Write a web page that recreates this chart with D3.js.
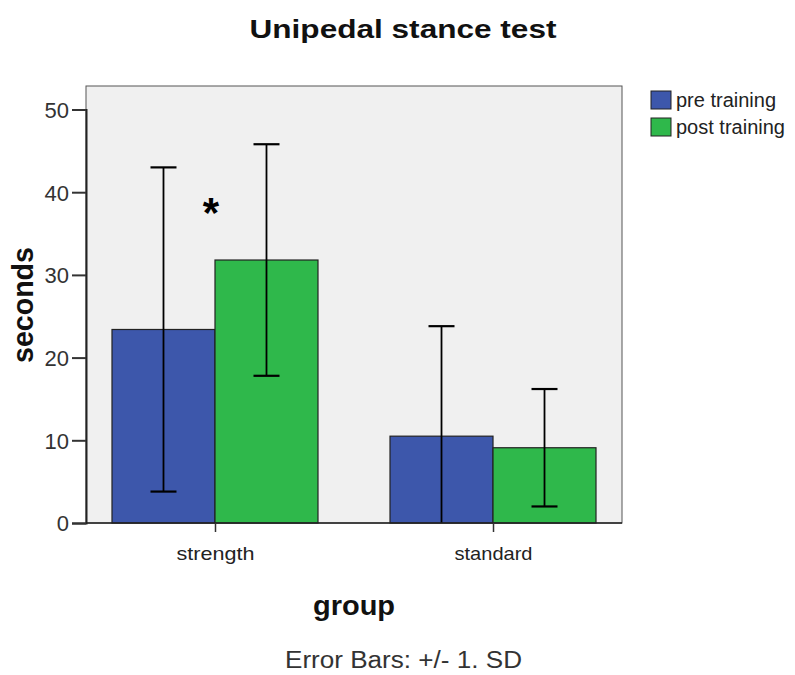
<!DOCTYPE html>
<html><head><meta charset="utf-8">
<script src="https://cdn.jsdelivr.net/npm/d3@7"></script>
<style>body{margin:0;background:#fff}svg{display:block}text{font-family:Arial,"Liberation Sans",sans-serif}</style>
</head><body>
<svg id="c" width="795" height="675"></svg>
<script>
const categories = ["strength", "standard"];
const seriesNames = ["pre training", "post training"];
const seriesColors = ["#3d57ab", "#2fb84b"];
const preMeans = [23.4, 10.5];
const preSD = [19.6, 13.3];
const postMeans = [31.8, 9.1];
const postSD = [14.0, 7.1];
const yTicks = [0, 10, 20, 30, 40, 50];

const svg = d3.select("#c");
const L = 86, R = 622, T = 86, B = 523;
const y = d3.scaleLinear().domain([0, 50]).range([B, 109.5]);
const x = d3.scalePoint().domain(categories).range([L, R]).padding(0.464);
const sub = d3.scaleBand().domain(seriesNames).range([-103, 103]);

svg.append("rect").attr("x", L).attr("y", T).attr("width", R - L).attr("height", B - T)
  .attr("fill", "#f0f0f0").attr("stroke", "#555").attr("stroke-width", 1);

const data = [];
categories.forEach((c, i) => {
  data.push({c, s: seriesNames[0], m: preMeans[i], sd: preSD[i], col: seriesColors[0]});
  data.push({c, s: seriesNames[1], m: postMeans[i], sd: postSD[i], col: seriesColors[1]});
});

svg.selectAll("rect.bar").data(data).enter().append("rect").attr("class", "bar")
  .attr("x", d => x(d.c) + sub(d.s)).attr("width", sub.bandwidth())
  .attr("y", d => y(d.m)).attr("height", d => B - y(d.m))
  .attr("fill", d => d.col).attr("stroke", "#222").attr("stroke-width", 1.2);

const eb = svg.selectAll("g.eb").data(data).enter().append("g");
const cx = d => x(d.c) + sub(d.s) + sub.bandwidth() / 2;
const lo = d => Math.max(0, d.m - d.sd);
eb.append("line").attr("x1", cx).attr("x2", cx).attr("y1", d => y(d.m + d.sd)).attr("y2", d => y(lo(d)))
  .attr("stroke", "#000").attr("stroke-width", 1.8);
eb.append("line").attr("x1", d => cx(d) - 13).attr("x2", d => cx(d) + 13)
  .attr("y1", d => y(d.m + d.sd)).attr("y2", d => y(d.m + d.sd)).attr("stroke", "#000").attr("stroke-width", 2.2);
eb.filter(d => d.m - d.sd > 0).append("line").attr("x1", d => cx(d) - 13).attr("x2", d => cx(d) + 13)
  .attr("y1", d => y(lo(d))).attr("y2", d => y(lo(d))).attr("stroke", "#000").attr("stroke-width", 2.2);

// axes
const ya = svg.append("g").attr("transform", `translate(${L},0)`)
  .call(d3.axisLeft(y).tickValues(yTicks).tickSize(14).tickPadding(3));
ya.select(".domain").attr("stroke", "#222").attr("stroke-width", 2);
ya.selectAll(".tick line").attr("stroke", "#333").attr("stroke-width", 2);
ya.selectAll(".tick text").attr("font-size", 22).attr("fill", "#333").attr("dy", "0.36em");

const xa = svg.append("g").attr("transform", `translate(0,${B})`)
  .call(d3.axisBottom(x).tickSize(9).tickPadding(0));
xa.select(".domain").attr("stroke", "#222").attr("stroke-width", 1.5).attr("d", `M${L},0H${R}`);
xa.selectAll(".tick line").attr("stroke", "#333").attr("stroke-width", 1.5);
xa.selectAll(".tick text").attr("font-size", 19).attr("fill", "#222").attr("dy", null).attr("y", 37)
  .attr("textLength", 78).attr("lengthAdjust", "spacingAndGlyphs");

// asterisk
svg.append("text").attr("x", x("strength") - 4).attr("y", y(35.8)).attr("text-anchor", "middle")
  .attr("font-size", 42).attr("font-weight", "bold").text("*");

// titles
svg.append("text").attr("x", 403).attr("y", 38).attr("text-anchor", "middle")
  .attr("font-size", 25).attr("font-weight", "bold").attr("fill", "#111")
  .attr("textLength", 307).attr("lengthAdjust", "spacingAndGlyphs").text("Unipedal stance test");
svg.append("text").attr("transform", "translate(33,305) rotate(-90)").attr("text-anchor", "middle")
  .attr("font-size", 29).attr("font-weight", "bold").attr("fill", "#111")
  .attr("textLength", 116).attr("lengthAdjust", "spacingAndGlyphs").text("seconds");
svg.append("text").attr("x", 354).attr("y", 615).attr("text-anchor", "middle")
  .attr("font-size", 28).attr("font-weight", "bold").attr("fill", "#111")
  .attr("textLength", 82).attr("lengthAdjust", "spacingAndGlyphs").text("group");
svg.append("text").attr("x", 403.5).attr("y", 668).attr("text-anchor", "middle")
  .attr("font-size", 23.5).attr("fill", "#333")
  .attr("textLength", 237).attr("lengthAdjust", "spacingAndGlyphs").text("Error Bars: +/- 1. SD");

// legend
const lg = svg.selectAll("g.lg").data(seriesNames).enter().append("g")
  .attr("transform", (d, i) => `translate(651,${91 + i * 27})`);
lg.append("rect").attr("width", 20).attr("height", 18).attr("fill", (d, i) => seriesColors[i])
  .attr("stroke", "#222").attr("stroke-width", 1);
lg.append("text").attr("x", 25).attr("y", 16).attr("font-size", 20).attr("fill", "#222").text(d => d);
</script>
</body></html>
